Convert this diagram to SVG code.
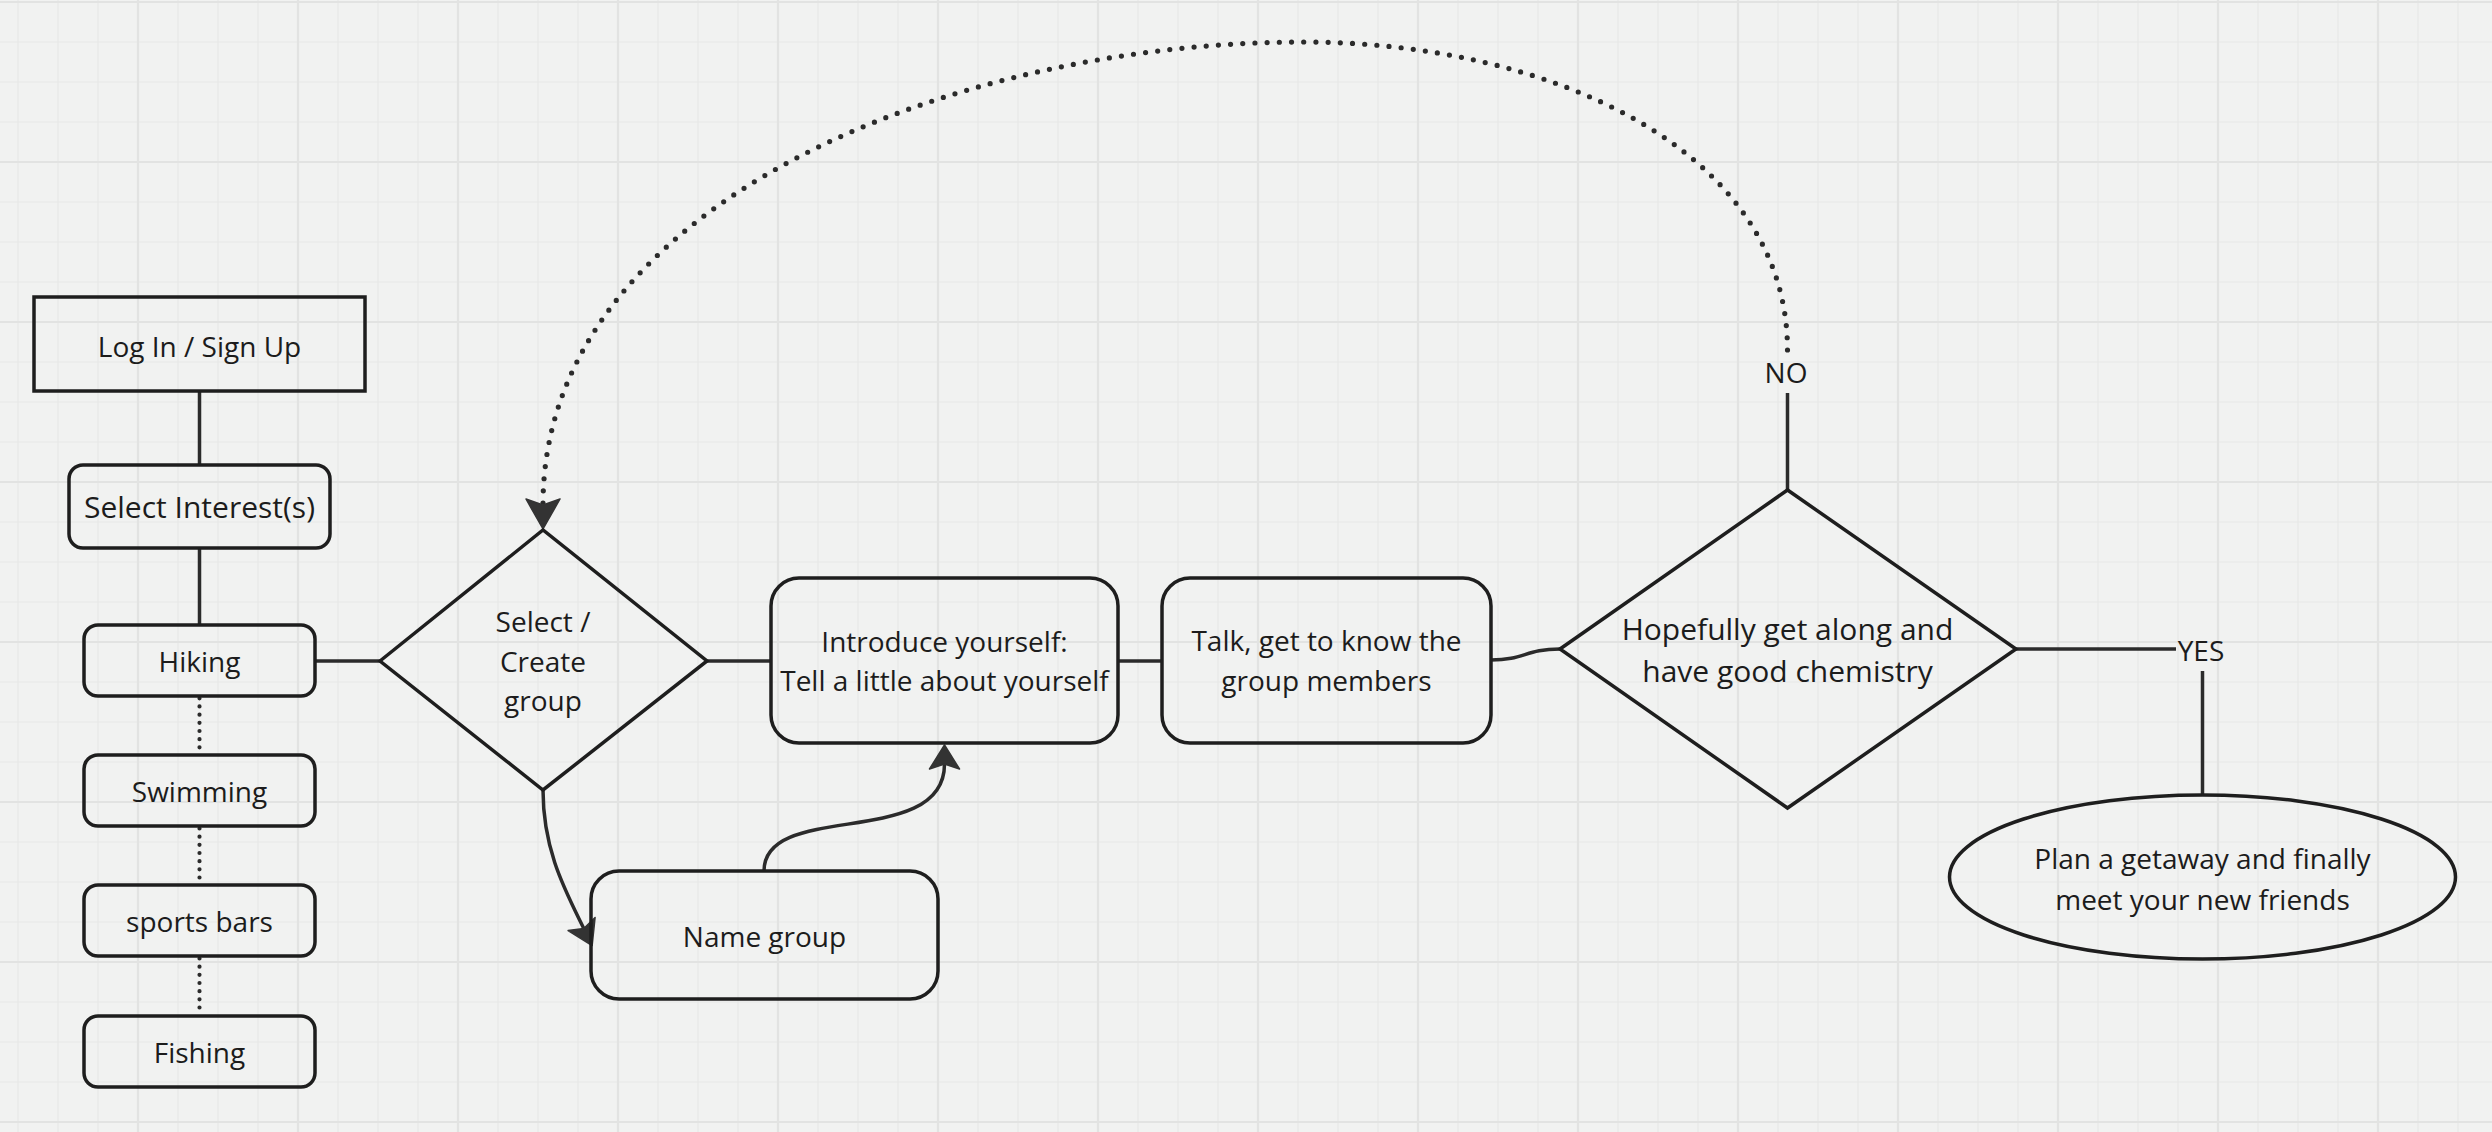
<svg xmlns="http://www.w3.org/2000/svg" width="2492" height="1132" viewBox="0 0 2492 1132">
  <style>
    .box { fill: none; stroke: #1e1e1e; stroke-width: 3.5; }
    .conn { fill: none; stroke: #2b2b2b; stroke-width: 3.5; }
    .dots { fill: none; stroke: #2b2b2b; stroke-width: 4.2; stroke-linecap: round; stroke-dasharray: 0 8.17; }
    .arcdots { fill: none; stroke: #2b2b2b; stroke-width: 5.2; stroke-linecap: round; stroke-dasharray: 0 12.2; }
    text { font-family: "Open Sans", "Noto Sans", "Liberation Sans", sans-serif; font-size: 28px; fill: #1c1c1c; text-anchor: middle; }
    .big { font-size: 30px; }
  </style>
  <defs>
    <pattern id="grid" width="160" height="160" patternUnits="userSpaceOnUse" x="38" y="-98">
      <rect width="160" height="160" fill="#f1f2f1"/>
      <path d="M20,0 V160 M60,0 V160 M140,0 V160 M0,20 H160 M0,60 H160 M0,140 H160" stroke="#e7e8e7" stroke-width="1.2"/>
      <path d="M100,0 V160 M0,100 H160" stroke="#e2e3e2" stroke-width="2.2"/>
    </pattern>
    <marker id="arrowBig" markerUnits="userSpaceOnUse" viewBox="-8 -19 34 38" markerWidth="34" markerHeight="38" refX="0" refY="0" orient="auto">
      <path d="M24,0 L-6,-17 L0,0 L-6,17 Z" fill="#333333" stroke="#333333" stroke-width="1.5" stroke-linejoin="round"/>
    </marker>
    <marker id="arrow" markerUnits="userSpaceOnUse" viewBox="-7 -17 28 34" markerWidth="28" markerHeight="34" refX="0" refY="0" orient="auto">
      <path d="M19,0 L-5,-15 L0,0 L-5,15 Z" fill="#333333" stroke="#333333" stroke-width="1.5" stroke-linejoin="round"/>
    </marker>
  </defs>

  <rect x="0" y="0" width="2492" height="1132" fill="url(#grid)"/>

  <g id="connectors">
    <path class="conn" d="M199.5,391 V465"/>
    <path class="conn" d="M199.5,548 V625"/>
    <path class="dots" d="M199.5,698.3 V747.4"/>
    <path class="dots" d="M199.5,828.5 V877.6"/>
    <path class="dots" d="M199.5,958.5 V1007.6"/>
    <path class="conn" d="M315,661 H380"/>
    <path class="conn" d="M707,661 H771"/>
    <path class="conn" d="M1118,661 H1162"/>
    <path class="conn" d="M1491,660 C1525,660 1525,649 1560,649"/>
    <path class="conn" d="M543,790 C543,850 565,890 583.8,928.5" marker-end="url(#arrow)"/>
    <path class="conn" d="M764,871 C764,800 944.5,850 944.5,764" marker-end="url(#arrow)"/>
    <path class="conn" d="M2016,649 H2176"/>
    <path class="conn" d="M2202.5,671 V795"/>
    <path class="conn" d="M1787.5,490 V393"/>
    <path class="arcdots" d="M1787.5,350 C1787.5,150 1550,42 1303,42 C960,42 543,200 543,505" marker-end="url(#arrowBig)"/>
    <text x="1786" y="383">NO</text>
    <text x="2201" y="661">YES</text>
  </g>

  <g id="login">
    <rect class="box" x="34" y="297" width="331" height="94"/>
    <text x="199.5" y="357">Log In / Sign Up</text>
  </g>
  <g id="select-interests">
    <rect class="box" x="69" y="465" width="261" height="83" rx="14"/>
    <text class="big" x="199.5" y="518">Select Interest(s)</text>
  </g>
  <g id="hiking">
    <rect class="box" x="84" y="625" width="231" height="71" rx="14"/>
    <text x="199.5" y="672">Hiking</text>
  </g>
  <g id="swimming">
    <rect class="box" x="84" y="755" width="231" height="71" rx="14"/>
    <text x="199.5" y="802">Swimming</text>
  </g>
  <g id="sports-bars">
    <rect class="box" x="84" y="885" width="231" height="71" rx="14"/>
    <text x="199.5" y="932">sports bars</text>
  </g>
  <g id="fishing">
    <rect class="box" x="84" y="1016" width="231" height="71" rx="14"/>
    <text x="199.5" y="1063">Fishing</text>
  </g>
  <g id="select-create">
    <polygon class="box" points="380,661 543,530 707,661 543,790"/>
    <text x="543" y="632">Select /</text>
    <text x="543" y="672">Create</text>
    <text x="543" y="711">group</text>
  </g>
  <g id="introduce">
    <rect class="box" x="771" y="578" width="347" height="165" rx="28"/>
    <text x="944.5" y="652">Introduce yourself:</text>
    <text x="944.5" y="691">Tell a little about yourself</text>
  </g>
  <g id="name-group">
    <rect class="box" x="591" y="871" width="347" height="128" rx="28"/>
    <text x="764.5" y="947">Name group</text>
  </g>
  <g id="talk">
    <rect class="box" x="1162" y="578" width="329" height="165" rx="28"/>
    <text x="1326.5" y="651">Talk, get to know the</text>
    <text x="1326.5" y="691">group members</text>
  </g>
  <g id="chemistry">
    <polygon class="box" points="1560,649 1787.5,490 2016,649 1787.5,808"/>
    <text class="big" x="1787.5" y="640">Hopefully get along and</text>
    <text class="big" x="1787.5" y="682">have good chemistry</text>
  </g>
  <g id="getaway">
    <ellipse class="box" cx="2202.5" cy="877" rx="253" ry="82"/>
    <text x="2202.5" y="869">Plan a getaway and finally</text>
    <text x="2202.5" y="909.5">meet your new friends</text>
  </g>
</svg>
